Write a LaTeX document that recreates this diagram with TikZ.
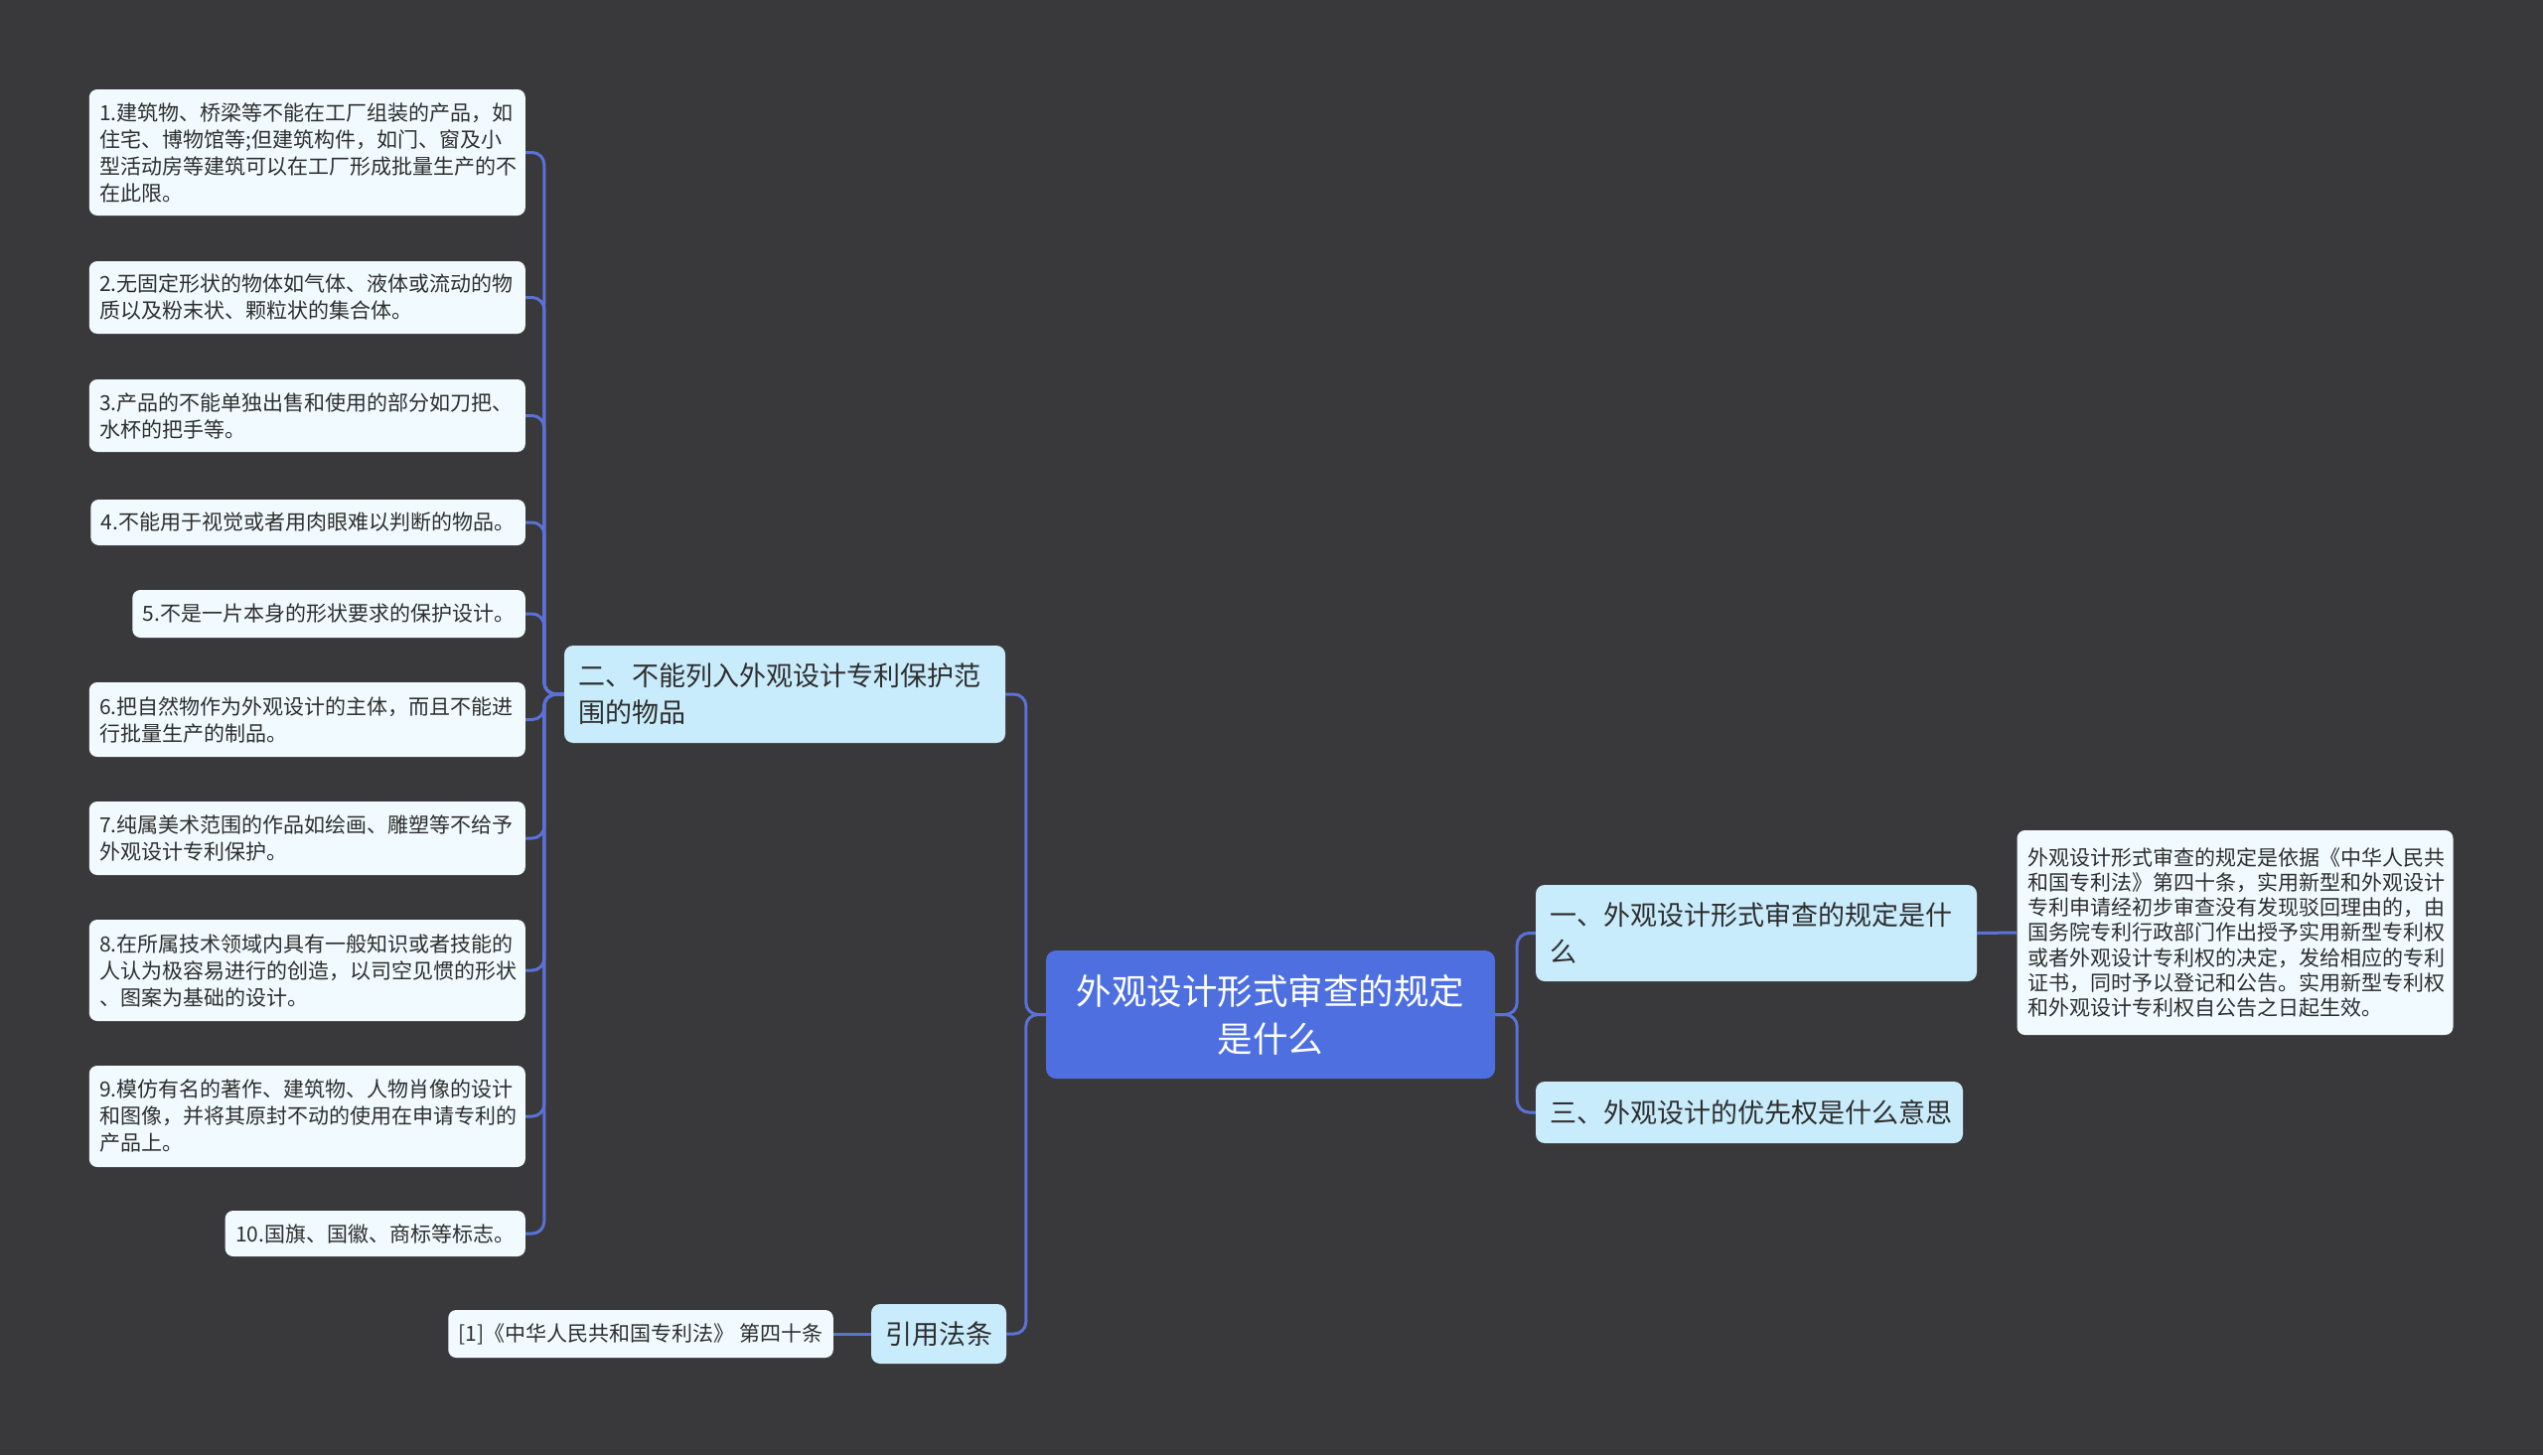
\documentclass[tikz,border=0pt]{standalone}
\usepackage{fontspec}
\usepackage{tikz}
\newfontfamily\cjk{Noto Sans CJK SC}
\definecolor{bg}{HTML}{39383B}
\definecolor{rootblue}{HTML}{4D6FE0}
\definecolor{topicblue}{HTML}{C8ECFC}
\definecolor{leafwhite}{HTML}{F1FBFF}
\definecolor{linkblue}{HTML}{5A72D8}
\definecolor{ink}{HTML}{2E2E2E}

\begin{document}
\begin{tikzpicture}[x=1pt, y=-1pt,
  root/.style={fill=rootblue, rounded corners=10pt, text=white, align=center, inner sep=0pt, font=\cjk\fontsize{35.5}{48}\selectfont},
  topic/.style={fill=topicblue, rounded corners=9pt, text=ink, align=left, inner xsep=14pt, inner ysep=0pt, font=\cjk\fontsize{27}{37}\selectfont},
  leaf/.style={fill=leafwhite, rounded corners=8pt, text=ink, align=left, inner xsep=10.5pt, inner ysep=0pt, font=\cjk\fontsize{21}{27}\selectfont},
  link/.style={draw=linkblue, line width=3pt, rounded corners=12pt}]
\fill[bg] (0,0) rectangle (2560,1465);

\node[root, minimum width=452, minimum height=129] (root) at (1279, 1021.5) {外观设计形式审查的规定\\是什么};

\node[topic, text width=416, minimum height=98] (two) at (790, 699) {二、不能列入外观设计专利保护范\\围的物品};
\node[topic, text width=416, minimum height=97] (one) at (1768, 939.5) {一、外观设计形式审查的规定是什\\么};
\node[topic, text width=402, minimum height=62] (three) at (1761, 1120) {三、外观设计的优先权是什么意思};
\node[topic, minimum height=60] (cite) at (945, 1343) {引用法条};

\node[leaf, anchor=east, text width=418, minimum height=127] (l1) at (529, 153.5) {1.建筑物、桥梁等不能在工厂组装的产品，如\\住宅、博物馆等;但建筑构件，如门、窗及小\\型活动房等建筑可以在工厂形成批量生产的不\\在此限。};
\node[leaf, anchor=east, text width=418, minimum height=73] (l2) at (529, 299.5) {2.无固定形状的物体如气体、液体或流动的物\\质以及粉末状、颗粒状的集合体。};
\node[leaf, anchor=east, text width=418, minimum height=73] (l3) at (529, 418.5) {3.产品的不能单独出售和使用的部分如刀把、\\水杯的把手等。};
\node[leaf, anchor=east, minimum height=46] (l4) at (529, 526) {4.不能用于视觉或者用肉眼难以判断的物品。};
\node[leaf, anchor=east, minimum height=48] (l5) at (529, 618) {5.不是一片本身的形状要求的保护设计。};
\node[leaf, anchor=east, text width=418, minimum height=75] (l6) at (529, 724.5) {6.把自然物作为外观设计的主体，而且不能进\\行批量生产的制品。};
\node[leaf, anchor=east, text width=418, minimum height=74] (l7) at (529, 844) {7.纯属美术范围的作品如绘画、雕塑等不给予\\外观设计专利保护。};
\node[leaf, anchor=east, text width=418, minimum height=102] (l8) at (529, 977) {8.在所属技术领域内具有一般知识或者技能的\\人认为极容易进行的创造，以司空见惯的形状\\、图案为基础的设计。};
\node[leaf, anchor=east, text width=418, minimum height=102] (l9) at (529, 1124) {9.模仿有名的著作、建筑物、人物肖像的设计\\和图像，并将其原封不动的使用在申请专利的\\产品上。};
\node[leaf, anchor=east, minimum height=46] (l10) at (529, 1242) {10.国旗、国徽、商标等标志。};

\node[leaf, anchor=east, minimum height=48] (ref) at (839, 1343) {[1]《中华人民共和国专利法》 第四十条};

\node[leaf, text width=418, minimum height=206, font=\cjk\fontsize{21}{25.3}\selectfont] (detail) at (2250, 939) {外观设计形式审查的规定是依据《中华人民共\\和国专利法》第四十条，实用新型和外观设计\\专利申请经初步审查没有发现驳回理由的，由\\国务院专利行政部门作出授予实用新型专利权\\或者外观设计专利权的决定，发给相应的专利\\证书，同时予以登记和公告。实用新型专利权\\和外观设计专利权自公告之日起生效。};

\foreach \i in {1,...,10}
  \draw[link] (two.west) -- ++(-20,0) |- (l\i.east);
\draw[link] (root.west) -- ++(-20,0) |- (two.east);
\draw[link] (root.west) -- ++(-20,0) |- (cite.east);
\draw[link] (root.east) -- ++(22,0) |- (one.west);
\draw[link] (root.east) -- ++(22,0) |- (three.west);
\draw[link] (one.east) -- (detail.west);
\draw[link] (cite.west) -- (ref.east);
\end{tikzpicture}
\end{document}
